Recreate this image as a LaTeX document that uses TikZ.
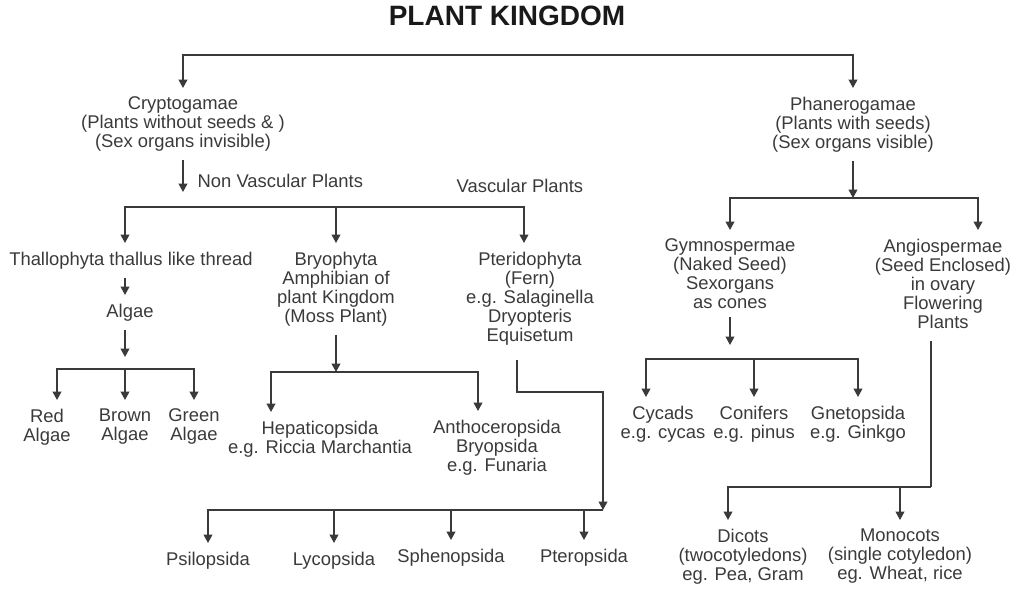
\documentclass[tikz,border=0pt]{standalone}
\usepackage{fontspec}
\setmainfont{Liberation Sans}
\usetikzlibrary{shapes,arrows,arrows.meta}
\definecolor{ink}{HTML}{3A3A3A}
\tikzset{
	taxon/.style   = {align=center, anchor=north, inner xsep=1pt, inner ysep=4pt,
		font=\fontsize{9.2}{9.5}\selectfont},
	note/.style    = {anchor=west, inner sep=0pt, font=\fontsize{9.2}{9.5}\selectfont},
	heading/.style = {text=black!90, font=\bfseries\fontsize{14}{16}\selectfont}
}

\begin{document}
\begin{tikzpicture}[x=0.5pt, y=-0.5pt, >={Triangle[length=4.2pt,width=4.4pt]}, line width=0.7pt, color=ink]
	\useasboundingbox (0,0) rectangle (1024,604);

	\draw
	node at (507,16) [heading] (kingdom) {PLANT KINGDOM}
	node at (183,88) [taxon] (crypto) {Cryptogamae\\(Plants without seeds \& )\\(Sex organs invisible)}
	node at (853,88) [taxon] (phanero) {Phanerogamae\\(Plants with seeds)\\(Sex organs visible)}
	node at (197,181) [note] (nonvasc) {Non Vascular Plants}
	node at (456,186) [note] (vasc) {Vascular Plants}
	node at (131,243) [taxon] (thallo) {Thallophyta thallus like thread}
	node at (130,295) [taxon] (algae) {Algae}
	node at (47,400) [taxon] (red) {Red\\Algae}
	node at (125,400) [taxon] (brown) {Brown\\Algae}
	node at (194,400) [taxon] (green) {Green\\Algae}
	node at (336,243) [taxon] (bryo) {Bryophyta\\Amphibian of\\plant Kingdom\\(Moss Plant)}
	node at (320,412) [taxon] (hepatic) {Hepaticopsida\\e.g. Riccia Marchantia}
	node at (497,411) [taxon] (anthoc) {Anthoceropsida\\Bryopsida\\e.g. Funaria}
	node at (530,243) [taxon] (pterido) {Pteridophyta\\(Fern)\\e.g. Salaginella\\Dryopteris\\Equisetum}
	node at (208,543) [taxon] (psilo) {Psilopsida}
	node at (334,543) [taxon] (lyco) {Lycopsida}
	node at (451,540) [taxon] (spheno) {Sphenopsida}
	node at (584,540) [taxon] (ptero) {Pteropsida}
	node at (730,230) [taxon] (gymno) {Gymnospermae\\(Naked Seed)\\Sexorgans\\as cones}
	node at (943,230) [taxon] (angio) {Angiospermae\\(Seed Enclosed)\\in ovary\\Flowering\\Plants}
	node at (663,397) [taxon] (cycads) {Cycads\\e.g. cycas}
	node at (754,397) [taxon] (conifers) {Conifers\\e.g. pinus}
	node at (858,397) [taxon] (gneto) {Gnetopsida\\e.g. Ginkgo}
	node at (743,520) [taxon] (dicots) {Dicots\\(twocotyledons)\\eg. Pea, Gram}
	node at (900,520) [taxon] (monocots) {Monocots\\(single cotyledon)\\eg. Wheat, rice};

	% joints of the tree
	\coordinate (kbar) at (507,55);
	\coordinate (ctip) at (183,192);
	\coordinate (nvbar) at (336,207);
	\coordinate (atip) at (125,357);
	\coordinate (abar) at (125,369);
	\coordinate (hbar) at (336,372);
	\coordinate (pturn) at (603,392);
	\coordinate (pbar) at (603,510);
	\coordinate (gbar) at (853,198);
	\coordinate (gtip) at (730,345);
	\coordinate (cbar) at (754,359);
	\coordinate (dbar) at (931,487);

	\draw[->](kbar) -| (crypto);
	\draw[->](kbar) -| (phanero);

	% cryptogamae
	\draw[->](crypto) -- (ctip);
	\draw[->](nvbar) -| ([xshift=-3pt]thallo.north);
	\draw[->](nvbar) -- (bryo);
	\draw[->](nvbar) -| ([xshift=-3pt]pterido.north);
	\draw[->]([xshift=-3pt]thallo.south) -- ([xshift=-2.5pt]algae.north);
	\draw[->]([xshift=-2.5pt]algae.south) -- (atip);
	\draw[->](abar) -| ([xshift=5pt]red.north);
	\draw[->](abar) -- (brown);
	\draw[->](abar) -| (green);
	\draw[->](bryo) -- (hbar);
	\draw[->](hbar) -| ([xshift=-24.5pt]hepatic.north);
	\draw[->](hbar) -| ([xshift=-9.5pt]anthoc.north);
	\draw[->, shorten <=3pt]([xshift=-6.5pt]pterido.south) |- (pturn) -- (pbar);
	\draw[->](pbar) -| (psilo);
	\draw[->](pbar) -| (lyco);
	\draw[->](pbar) -| (spheno);
	\draw[->](pbar) -| (ptero);

	% phanerogamae
	\draw[->](phanero) -- (gbar);
	\draw[->](gbar) -| (gymno);
	\draw[->](gbar) -| ([xshift=17.5pt]angio.north);
	\draw[->](gymno) -- (gtip);
	\draw[->](cbar) -| ([xshift=-8.5pt]cycads.north);
	\draw[->](cbar) -- (conifers);
	\draw[->](cbar) -| (gneto);
	\draw[shorten <=2pt]([xshift=-6pt]angio.south) -- (dbar);
	\draw[->](dbar) -| ([xshift=-7.5pt]dicots.north);
	\draw[->](dbar) -| (monocots);

\end{tikzpicture}
\end{document}
